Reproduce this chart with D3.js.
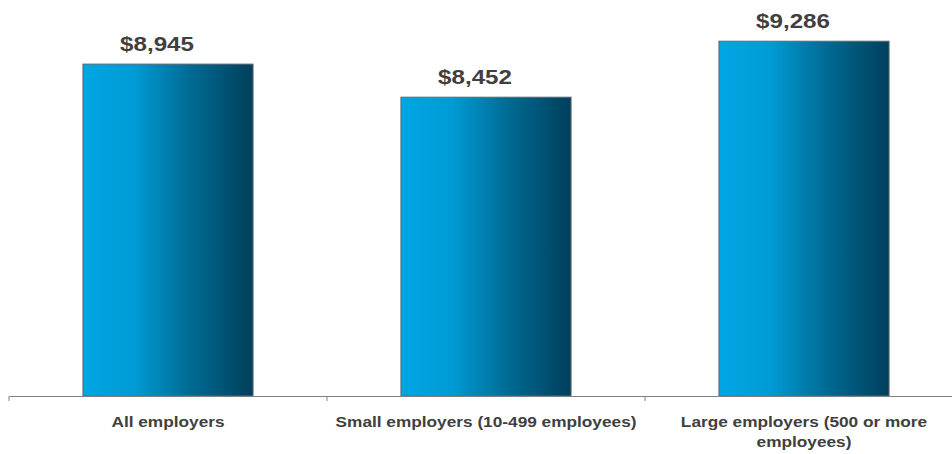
<!DOCTYPE html>
<html>
<head>
<meta charset="utf-8">
<script src="https://cdn.jsdelivr.net/npm/d3@7"></script>
<style>
  body { margin: 0; background: #fff; }
  text { font-family: "Liberation Sans", Arial, sans-serif; font-weight: bold; fill: #404040; }
</style>
</head>
<body>
<div class="chart"></div>
<script>
// Data
var categories = ["All employers", "Small employers (10-499 employees)", "Large employers (500 or more employees)"];
var values = [8945, 8452, 9286];
var valueLabels = ["$8,945", "$8,452", "$9,286"];

var svgWidth = 952;
var svgHeight = 454;
var baseline = 396;
var stretch = 1.15; // the reference text is a bit wider than Arial

var svg = d3.select(".chart")
  .append("svg")
  .attr("width", svgWidth)
  .attr("height", svgHeight);

// gradient for the bars, light on the left, navy on the right
var grad = svg.append("defs").append("linearGradient")
  .attr("id", "barGrad")
  .attr("x1", "0%").attr("x2", "100%")
  .attr("y1", "0%").attr("y2", "0%");
[[0, "#00a6e4"], [0.3, "#009bd5"], [0.65, "#006890"], [1, "#003f5b"]].forEach(function(s) {
  grad.append("stop").attr("offset", s[0]).attr("stop-color", s[1]);
});

var x = d3.scaleBand()
  .domain(categories)
  .range([9, 963])
  .paddingInner(0.465)
  .paddingOuter(0.2325);

var y = d3.scaleLinear()
  .domain([4000, 9900])
  .range([baseline, 0]);

var data = categories.map(function(c, i) { return { cat: c, value: values[i], label: valueLabels[i] }; });

// bars
svg.selectAll("rect.bar")
  .data(data)
  .enter()
  .append("rect")
  .attr("class", "bar")
  .attr("x", d => x(d.cat))
  .attr("y", d => y(d.value))
  .attr("width", x.bandwidth())
  .attr("height", d => baseline - y(d.value))
  .attr("fill", "url(#barGrad)")
  .attr("stroke", "#5a6a72")
  .attr("stroke-width", 1);

// value labels (sit a little left of the bar centre in the original)
svg.selectAll("g.val")
  .data(data)
  .enter()
  .append("g")
  .attr("class", "val")
  .attr("transform", d => `translate(${x(d.cat) + x.bandwidth() / 2 - 11}, ${y(d.value) - 13}) scale(${stretch}, 1)`)
  .append("text")
  .attr("text-anchor", "middle")
  .style("font-size", "21px")
  .text(d => d.label);

// axis line with ticks between categories
var axis = svg.append("g")
  .attr("transform", `translate(0, ${baseline})`)
  .call(d3.axisBottom(x).tickSize(0).tickFormat(""));
axis.select(".domain").attr("stroke", "#808080");

var bounds = d3.range(categories.length + 1).map(i => 9 + i * x.step());
axis.selectAll("line.sep")
  .data(bounds)
  .enter()
  .append("line")
  .attr("class", "sep")
  .attr("x1", d => d).attr("x2", d => d)
  .attr("y1", 0).attr("y2", 5)
  .attr("stroke", "#808080");

// category labels, wrapped to the band
svg.selectAll("g.cat")
  .data(data)
  .enter()
  .append("g")
  .attr("class", "cat")
  .attr("transform", d => `translate(${x(d.cat) + x.bandwidth() / 2}, ${baseline + 31}) scale(${stretch}, 1)`)
  .append("text")
  .attr("text-anchor", "middle")
  .style("font-size", "15px")
  .each(function(d) {
    var t = d3.select(this);
    var maxW = 316 / stretch;
    var words = d.cat.split(" ");
    var line = [];
    var tspan = t.append("tspan").attr("x", 0).attr("y", 0);
    words.forEach(function(w) {
      line.push(w);
      tspan.text(line.join(" "));
      if (tspan.node().getComputedTextLength() > maxW && line.length > 1) {
        line.pop();
        tspan.text(line.join(" "));
        line = [w];
        tspan = t.append("tspan").attr("x", 0).attr("dy", 20).text(w);
      }
    });
  });
</script>
</body>
</html>
